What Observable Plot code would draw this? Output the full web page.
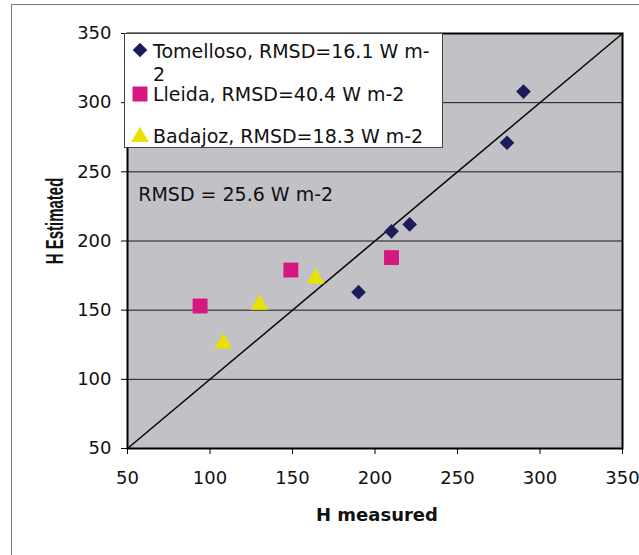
<!DOCTYPE html>
<html>
<head>
<meta charset="utf-8">
<script src="https://cdn.jsdelivr.net/npm/d3@7"></script>
<script src="https://cdn.jsdelivr.net/npm/@observablehq/plot@0.6"></script>
<style>
  html, body { margin: 0; padding: 0; background: #fff; }
  #wrap { position: relative; width: 639px; height: 555px; overflow: hidden; font-family: "DejaVu Sans", sans-serif; }
  #frameL { position: absolute; left: 11px; top: 5px; width: 0; height: 560px; border-left: 1.5px solid #7a7a7a; }
  #frameT { position: absolute; left: 11px; top: 4px; width: 640px; height: 0; border-top: 1.5px solid #7a7a7a; }
  #legend { position: absolute; left: 124px; top: 33px; width: 319px; height: 115px; background: #fff; border: 1px solid #444; box-sizing: border-box; }
  .lt { position: absolute; font-size: 19px; color: #111; white-space: nowrap; line-height: 1; }
  .lm { position: absolute; }
  #xlab { position: absolute; left: 316px; top: 504px; font-weight: bold; font-size: 18px; color: #111; white-space: nowrap; }
  #ylab { position: absolute; left: 54px; top: 221px; font-family: "Liberation Sans", Arial, sans-serif; font-weight: bold; font-size: 15px; color: #111; white-space: nowrap; transform: translate(-50%, -50%) rotate(-90deg) scaleY(1.55); }
</style>
</head>
<body>
<div id="wrap"></div>
<script>
// ---- data ----
const xTicks = [50, 100, 150, 200, 250, 300, 350];
const yTicks = [50, 100, 150, 200, 250, 300, 350];
const gridY = [100, 150, 200, 250, 300];
const diagX = [50, 350];
const diagY = [50, 350];

const tomX = [290, 280, 221, 210, 190];
const tomY = [308, 271, 212, 207, 163];
const lleX = [94, 149, 210];
const lleY = [153, 179, 188];
const badX = [108, 130, 164];
const badY = [126, 154, 173];

const seriesNames = ["Tomelloso", "Lleida", "Badajoz"];
const seriesRmsd = ["16.1", "40.4", "18.3"];
const seriesColors = ["#1c1b5c", "#d6177f", "#e9e200"];
const seriesSymbols = ["diamond2", "square", "triangle"];

const noteText = ["RMSD = 25.6 W m-2"];
const noteX = [56.5];
const noteY = [233];

const xLabel = "H measured";
const yLabel = "H Estimated";

// ---- chart ----
const wrap = document.getElementById("wrap");
const mk = (xs, ys) => xs.map((x, i) => ({x, y: ys[i]}));

const chart = Plot.plot({
  width: 639,
  height: 555,
  marginLeft: 127,
  marginRight: 17,
  marginTop: 33,
  marginBottom: 107,
  style: {fontFamily: "DejaVu Sans, sans-serif", fontSize: "18px", color: "#111", background: "transparent", overflow: "visible"},
  x: {domain: [50, 350]},
  y: {domain: [50, 350]},
  marks: [
    Plot.frame({fill: "#c2c1c5", stroke: null}),
    Plot.ruleY(gridY, {stroke: "#1a1a1a", strokeWidth: 1}),
    Plot.line(mk(diagX, diagY), {x: "x", y: "y", stroke: "#0a0a0a", strokeWidth: 1.6}),
    Plot.text(noteText.map((t, i) => ({t, x: noteX[i], y: noteY[i]})), {x: "x", y: "y", text: "t", textAnchor: "start", fontSize: 19, fill: "#111"}),
    Plot.dot(mk(tomX, tomY), {x: "x", y: "y", symbol: seriesSymbols[0], fill: seriesColors[0], r: 6.6}),
    Plot.dot(mk(lleX, lleY), {x: "x", y: "y", symbol: seriesSymbols[1], fill: seriesColors[1], r: 8.4}),
    Plot.dot(mk(badX, badY), {x: "x", y: "y", symbol: seriesSymbols[2], fill: seriesColors[2], r: 6.6}),
    Plot.frame({stroke: "#000", strokeWidth: 2}),
    Plot.axisX({ticks: xTicks, tickSize: 6, tickPadding: 17, label: null, fontSize: 18, stroke: "#000"}),
    Plot.axisY({ticks: yTicks, tickSize: 6, tickPadding: 10, label: null, fontSize: 18, stroke: "#000"})
  ]
});
chart.style.position = "absolute";
chart.style.left = "0px";
chart.style.top = "0px";
wrap.appendChild(chart);

// page frame
const fl = document.createElement("div"); fl.id = "frameL"; wrap.appendChild(fl);
const ft = document.createElement("div"); ft.id = "frameT"; wrap.appendChild(ft);

// legend
const legend = document.createElement("div");
legend.id = "legend";
wrap.appendChild(legend);
const lines = [
  {sym: 0, texts: ["Tomelloso, RMSD=" + seriesRmsd[0] + " W m-", "2"], top: 6, mtop: 6},
  {sym: 1, texts: [seriesNames[1] + ", RMSD=" + seriesRmsd[1] + " W m-2"], top: 49, mtop: 50},
  {sym: 2, texts: [seriesNames[2] + ", RMSD=" + seriesRmsd[2] + " W m-2"], top: 91, mtop: 93}
];
const symSize = [136, 225, 135];
lines.forEach((ln) => {
  const s = d3.create("svg").attr("width", 20).attr("height", 20).attr("class", "lm")
    .style("left", "5px").style("top", ln.mtop + "px");
  s.append("path")
    .attr("transform", "translate(10,10)")
    .attr("d", d3.symbol(ln.sym === 0 ? d3.symbolDiamond2 : ln.sym === 1 ? d3.symbolSquare : d3.symbolTriangle, symSize[ln.sym])())
    .attr("fill", seriesColors[ln.sym]);
  legend.appendChild(s.node());
  ln.texts.forEach((t, j) => {
    const d = document.createElement("div");
    d.className = "lt";
    d.textContent = t;
    d.style.left = "28px";
    d.style.top = (ln.top + 2 + j * 23) + "px";
    legend.appendChild(d);
  });
});

// axis labels
const xl = document.createElement("div"); xl.id = "xlab"; xl.textContent = xLabel; wrap.appendChild(xl);
const yl = document.createElement("div"); yl.id = "ylab"; yl.textContent = yLabel; wrap.appendChild(yl);
</script>
</body>
</html>
